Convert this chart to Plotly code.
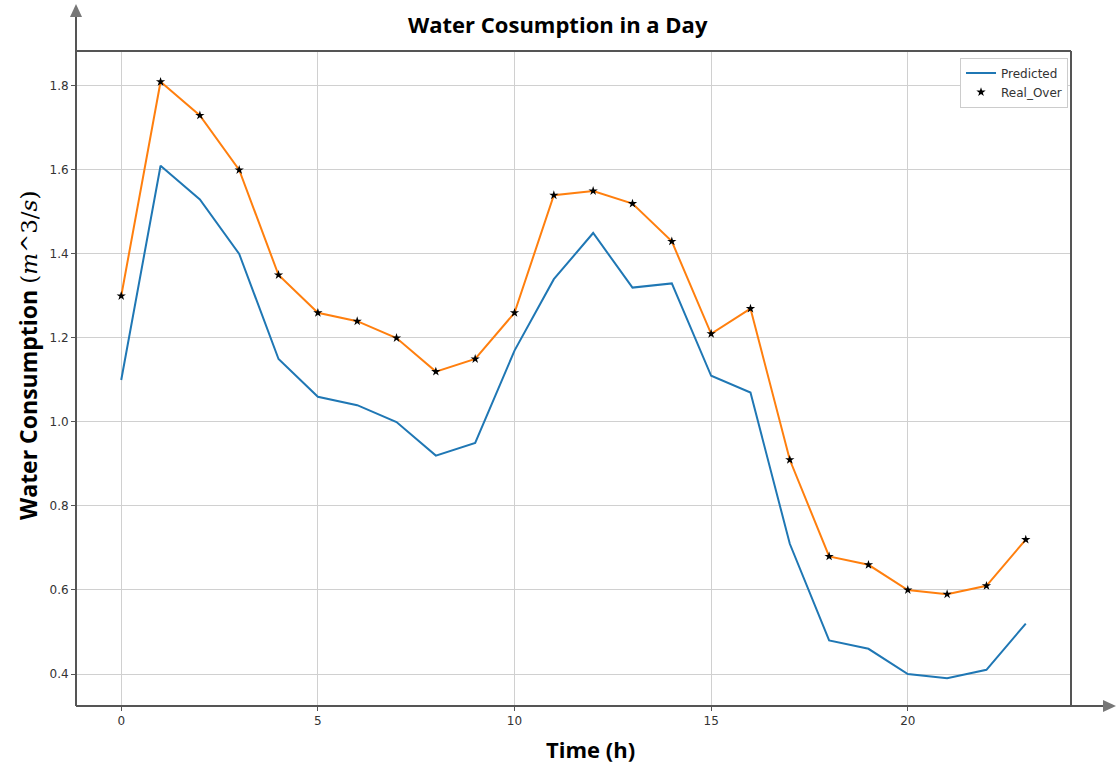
import plotly.graph_objects as go

hours = list(range(24))
predicted = [1.10, 1.61, 1.53, 1.40, 1.15, 1.06, 1.04, 1.00, 0.92, 0.95, 1.17, 1.34,
             1.45, 1.32, 1.33, 1.11, 1.07, 0.71, 0.48, 0.46, 0.40, 0.39, 0.41, 0.52]
real_over = [1.30, 1.81, 1.73, 1.60, 1.35, 1.26, 1.24, 1.20, 1.12, 1.15, 1.26, 1.54,
             1.55, 1.52, 1.43, 1.21, 1.27, 0.91, 0.68, 0.66, 0.60, 0.59, 0.61, 0.72]
x_ticks = [0, 5, 10, 15, 20]
y_ticks = [0.4, 0.6, 0.8, 1.0, 1.2, 1.4, 1.6, 1.8]

fig = go.Figure()
fig.add_trace(go.Scatter(x=hours, y=predicted, mode="lines", name="Predicted",
                         line=dict(color="#1f77b4", width=2)))
fig.add_trace(go.Scatter(x=hours, y=real_over, mode="lines", showlegend=False,
                         line=dict(color="#ff7f0e", width=2)))
fig.add_trace(go.Scatter(x=hours, y=real_over, mode="markers", name="Real_Over",
                         marker=dict(symbol="star", color="black", size=7)))

W, H = 1116, 769
L, R, T, B = 76, 1071, 51, 706
pw, ph = R - L, B - T

def px(x):
    return (x - L) / pw

def py(y):
    return (B - y) / ph

shapes = [
    dict(type="line", xref="paper", yref="paper", x0=0, x1=0, y0=0, y1=py(14),
         line=dict(color="#555555", width=2)),
    dict(type="path", xref="paper", yref="paper",
         path=f"M {px(76)},{py(4)} L {px(70)},{py(17)} L {px(82)},{py(17)} Z",
         fillcolor="#777777", line=dict(color="#777777", width=0)),
    dict(type="line", xref="paper", yref="paper", x0=0, x1=px(1104), y0=0, y1=0,
         line=dict(color="#555555", width=2)),
    dict(type="path", xref="paper", yref="paper",
         path=f"M {px(1116)},{py(706)} L {px(1103)},{py(700)} L {px(1103)},{py(712)} Z",
         fillcolor="#777777", line=dict(color="#777777", width=0)),
    dict(type="line", xref="paper", yref="paper", x0=0, x1=1, y0=1, y1=1,
         line=dict(color="#555555", width=2)),
    dict(type="line", xref="paper", yref="paper", x0=1, x1=1, y0=0, y1=1,
         line=dict(color="#555555", width=2)),
]

title_font = dict(family="Open Sans", size=22, color="black")
annotations = [
    dict(text="<b>Water Cosumption in a Day</b>", xref="paper", yref="paper",
         x=px(558), y=py(24), xanchor="center", yanchor="middle", showarrow=False,
         font=title_font),
    dict(text="<b>Time (h)</b>", xref="paper", yref="paper",
         x=px(590), y=py(749), xanchor="center", yanchor="middle", showarrow=False,
         font=title_font),
    dict(text="<b>Water Consumption</b> <span style='font-family:DejaVu Serif;font-weight:normal'>(<i>m</i>^3/<i>s</i>)</span>",
         xref="paper", yref="paper", x=px(28), y=py(356), xanchor="center", yanchor="middle",
         textangle=-90, showarrow=False, font=dict(family="Open Sans", size=23, color="black")),
]

fig.update_layout(
    width=W, height=H,
    margin=dict(l=L, r=W - R, t=T, b=H - B),
    paper_bgcolor="white", plot_bgcolor="white",
    shapes=shapes,
    annotations=annotations,
    xaxis=dict(range=[-1.15, 24.15], tickmode="array", tickvals=x_ticks,
               showgrid=True, gridcolor="#d0d0d0", gridwidth=1,
               ticks="outside", ticklen=4, tickcolor="#555555",
               showline=False, zeroline=False,
               tickfont=dict(family="DejaVu Sans", size=12, color="#333333")),
    yaxis=dict(range=[0.3238, 1.8833], tickmode="array", tickvals=y_ticks,
               tickformat=".1f",
               showgrid=True, gridcolor="#d0d0d0", gridwidth=1,
               ticks="outside", ticklen=4, tickcolor="#555555",
               showline=False, zeroline=False,
               tickfont=dict(family="DejaVu Sans", size=12, color="#333333")),
    legend=dict(x=0.997, y=0.99, xanchor="right", yanchor="top",
                bgcolor="white", bordercolor="#cccccc", borderwidth=1,
                font=dict(family="DejaVu Sans", size=12, color="#333333"),
                tracegroupgap=0),
)

fig.write_html("out.html", config={"displayModeBar": False},
               post_script="document.body.style.margin='0';document.body.style.overflow='hidden';")
